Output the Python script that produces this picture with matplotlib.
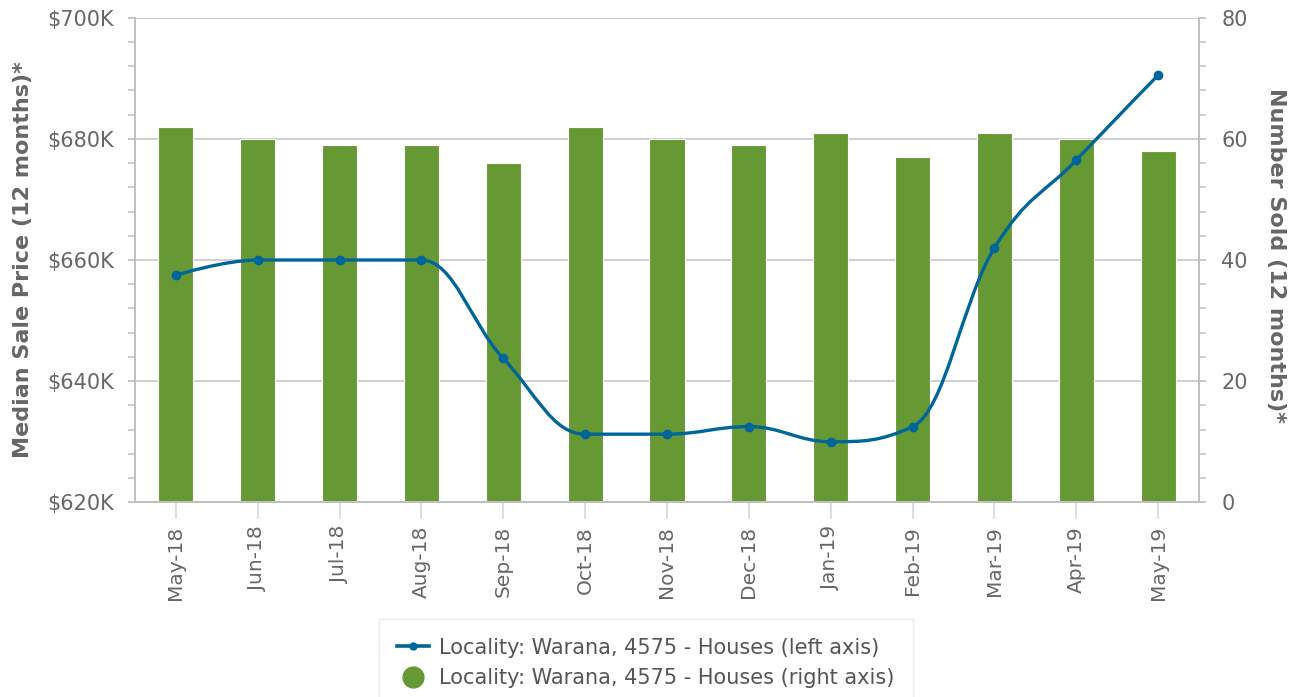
import matplotlib
matplotlib.use("Agg")
import matplotlib.pyplot as plt
from matplotlib.path import Path
from matplotlib.patches import PathPatch
from matplotlib.lines import Line2D
from matplotlib.ticker import MultipleLocator, FuncFormatter

# ---- data ----
months = ["May-18", "Jun-18", "Jul-18", "Aug-18", "Sep-18", "Oct-18", "Nov-18",
          "Dec-18", "Jan-19", "Feb-19", "Mar-19", "Apr-19", "May-19"]
median_price = [657500, 660000, 660000, 660000, 643750, 631250, 631250,
                632500, 630000, 632500, 662000, 676500, 690500]
number_sold = [62, 60, 59, 59, 56, 62, 60, 59, 61, 57, 61, 60, 58]

line_label = "Locality: Warana, 4575 - Houses (left axis)"
bar_label = "Locality: Warana, 4575 - Houses (right axis)"

BLUE = "#006699"
GREEN = "#669933"
TEXT = "#666666"
GRID = "#cccccc"
AXIS = "#c0c0c0"


def spline_path(xs, ys, smoothing=1.5):
    """Smooth cubic Bezier through the points (monotone-clamped control points)."""
    n = len(xs)
    denom = smoothing + 1
    left = [(x, y) for x, y in zip(xs, ys)]
    right = [(x, y) for x, y in zip(xs, ys)]
    for i in range(1, n - 1):
        px, py = xs[i], ys[i]
        lx, ly = xs[i - 1], ys[i - 1]
        nx, ny = xs[i + 1], ys[i + 1]
        lcx = (smoothing * px + lx) / denom
        lcy = (smoothing * py + ly) / denom
        rcx = (smoothing * px + nx) / denom
        rcy = (smoothing * py + ny) / denom
        corr = 0.0
        if rcx != lcx:
            corr = ((rcy - lcy) * (rcx - px)) / (rcx - lcx) + py - rcy
        lcy += corr
        rcy += corr
        if lcy > ly and lcy > py:
            lcy = max(ly, py)
            rcy = 2 * py - lcy
        elif lcy < ly and lcy < py:
            lcy = min(ly, py)
            rcy = 2 * py - lcy
        if rcy > ny and rcy > py:
            rcy = max(ny, py)
            lcy = 2 * py - rcy
        elif rcy < ny and rcy < py:
            rcy = min(ny, py)
            lcy = 2 * py - rcy
        left[i] = (lcx, lcy)
        right[i] = (rcx, rcy)
    verts = [(xs[0], ys[0])]
    codes = [Path.MOVETO]
    for i in range(1, n):
        verts += [right[i - 1], left[i], (xs[i], ys[i])]
        codes += [Path.CURVE4] * 3
    return Path(verts, codes)


fig = plt.figure(figsize=(12.95, 6.97), dpi=100)
ax = fig.add_axes([0.1042, 0.2793, 0.8217, 0.6953])   # price (left)
ax2 = ax.twinx()                                        # count (right)

x = list(range(len(months)))

# bars on the right axis, with grid drawn underneath
ax2.bar(x, number_sold, width=0.43, color=GREEN, edgecolor="white",
        linewidth=0.8, zorder=2)
ax2.set_ylim(0, 80)
ax2.yaxis.set_major_locator(MultipleLocator(20))
ax2.yaxis.set_minor_locator(MultipleLocator(4))
ax2.set_axisbelow(True)
ax2.grid(True, axis="y", color=GRID, linewidth=1.3, zorder=0)

# price line on the left axis, drawn above the bars
ax.set_zorder(ax2.get_zorder() + 1)
ax.patch.set_visible(False)
ax.add_patch(PathPatch(spline_path(x, median_price), fill=False,
                       edgecolor=BLUE, linewidth=2.4, capstyle="round",
                       joinstyle="round", zorder=3))
ax.plot(x, median_price, linestyle="none", marker="o", markersize=6,
        color=BLUE, zorder=4)
ax.set_ylim(620000, 700000)
ax.set_xlim(-0.5, len(months) - 0.5)
ax.yaxis.set_major_locator(MultipleLocator(20000))
ax.yaxis.set_minor_locator(MultipleLocator(4000))
ax.yaxis.set_major_formatter(FuncFormatter(lambda v, p: f"${v/1000:.0f}K"))

ax.set_xticks(x)
ax.set_xticklabels(months, rotation=90, va="top", ha="center")

for a in (ax, ax2):
    for side in ("top", "bottom", "left", "right"):
        a.spines[side].set_color(AXIS)
        a.spines[side].set_linewidth(1.3)
    a.spines["top"].set_visible(False)

ax.tick_params(axis="x", length=12, width=1.1, color="#ccd6eb", pad=5,
               labelsize=14.5, labelcolor=TEXT)
ax.tick_params(axis="y", which="major", length=5, width=1.3, color=AXIS,
               pad=10, labelsize=15, labelcolor=TEXT)
ax.tick_params(axis="y", which="minor", length=5, width=1.1, color=AXIS)
ax2.tick_params(axis="y", which="major", length=5, width=1.3, color=AXIS,
                pad=11, labelsize=15, labelcolor=TEXT)
ax2.tick_params(axis="y", which="minor", length=5, width=1.1, color=AXIS)

# top border line at the 700K / 80 level
ax2.axhline(80, color=GRID, linewidth=1.3, zorder=0)

fig.text(0.0181, 0.627, "Median Sale Price (12 months)*", rotation=90,
         ha="center", va="center", fontsize=16, fontweight="bold",
         color=TEXT)
fig.text(0.9857, 0.633, "Number Sold (12 months)*", rotation=270,
         ha="center", va="center", fontsize=16, fontweight="bold",
         color=TEXT)

handles = [
    Line2D([0], [0], color=BLUE, linewidth=2.6, marker="o", markersize=5),
    Line2D([0], [0], linestyle="none", marker="o", markersize=15,
           markerfacecolor=GREEN, markeredgecolor=GREEN),
]
leg = fig.legend(handles, [line_label, bar_label], loc="upper center",
                 bbox_to_anchor=(0.4988, 0.1119), ncol=1, frameon=True,
                 fancybox=False, fontsize=15, labelcolor="#555555",
                 handlelength=1.5, handletextpad=0.5, borderpad=0.9,
                 labelspacing=0.5, borderaxespad=0)
leg.get_frame().set_edgecolor("#e8e8e8")
leg.get_frame().set_linewidth(1.0)

fig.savefig("out.png", dpi=100)
